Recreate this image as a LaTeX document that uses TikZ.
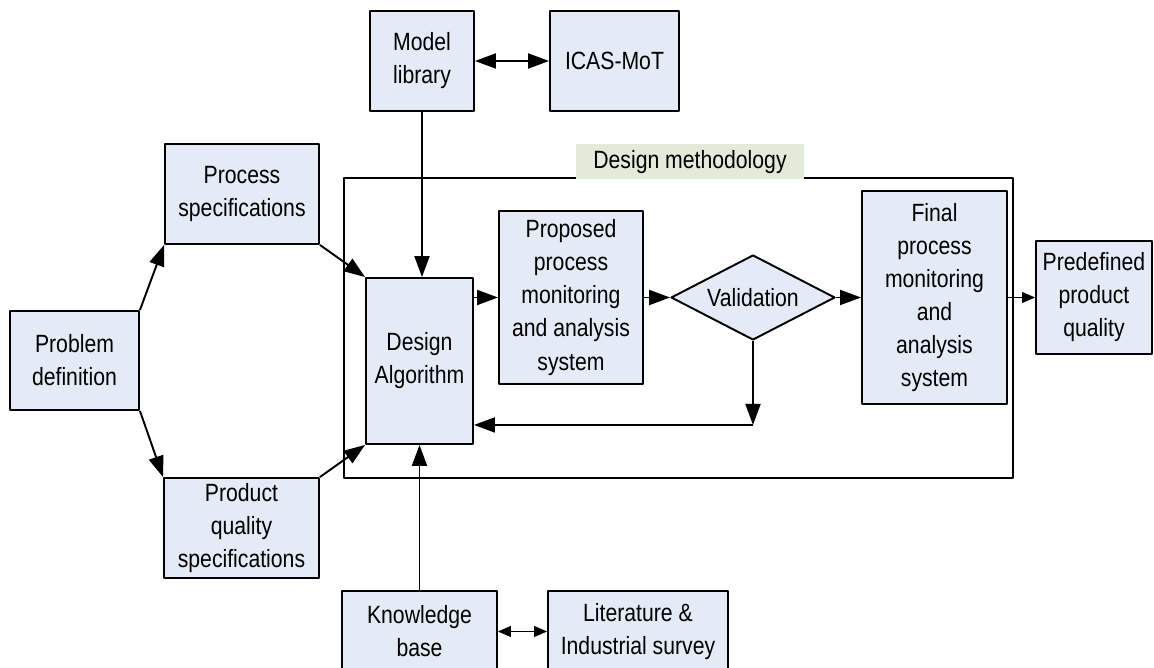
\documentclass[tikz,border=0pt]{standalone}
\usepackage{fontspec}
\setmainfont[FakeStretch=0.85]{Liberation Sans}
\usetikzlibrary{arrows.meta,shapes.geometric}
\definecolor{boxblue}{RGB}{229,235,246}
\definecolor{tagbg}{RGB}{227,234,218}
\begin{document}
\begin{tikzpicture}[x=0.02cm,y=-0.02cm,line join=round,>={Triangle[length=0.42cm,width=0.3cm]},
	font=\fontsize{14.2pt}{18.8pt}\selectfont,
	block/.style={draw,line width=1.1pt,fill=boxblue,align=center,inner sep=0pt},
	big/.style={->,line width=1.1pt},
	small/.style={line width=0.55pt,>={Triangle[length=0.26cm,width=0.22cm]}}]
		\useasboundingbox (0,0) rectangle (1154,668);
		\clip (0,0) rectangle (1154,668);
		\node[draw,line width=1.1pt,minimum width=13.38cm,minimum height=6cm,inner sep=0pt] (frame) at (678.5,328) {};
		\node[fill=tagbg,minimum width=4.56cm,minimum height=0.7cm,inner sep=0pt] (tag) at (690,162) {Design methodology};
		\node[block,minimum width=2.58cm,minimum height=1.98cm] (prob) at (74.5,360.5) {Problem\\definition};
		\node[block,minimum width=3.08cm,minimum height=2cm] (pspec) at (242,194) {Process\\specifications};
		\node[block,minimum width=3.1cm,minimum height=2cm] (qspec) at (241.5,528) {Product\\quality\\specifications};
		\node[block,minimum width=2.08cm,minimum height=2cm] (model) at (422,61) {Model\\library};
		\node[block,minimum width=2.58cm,minimum height=2cm] (icas) at (614.5,61) {ICAS-MoT};
		\node[block,minimum width=2.14cm,minimum height=3.32cm] (alg) at (419.5,361) {Design\\Algorithm};
		\node[block,minimum width=2.88cm,minimum height=3.46cm] (prop) at (571,297.5) {Proposed\\process\\monitoring\\and analysis\\system};
		\node[block,diamond,aspect=1.9,minimum width=3.28cm,minimum height=1.7cm] (val) at (753,297.5) {Validation};
		\node[block,minimum width=2.9cm,minimum height=4.26cm] (fin) at (934.5,297.5) {Final\\process\\monitoring\\and\\analysis\\system};
		\node[block,minimum width=2.32cm,minimum height=2.26cm] (pre) at (1094,297.5) {Predefined\\product\\quality};
		\node[block,minimum width=3.1cm,minimum height=1.62cm] (know) at (419.5,631.5) {Knowledge\\base};
		\node[block,minimum width=3.6cm,minimum height=1.62cm] (lit) at (638,631.5) {Literature \&\\Industrial survey};
		\draw[big] (prob.north east) -- (pspec.south west);
		\draw[big] (prob.south east) -- (qspec.north west);
		\draw[big] (pspec.south east) -- (alg.north west);
		\draw[big] (qspec.north east) -- (alg.south west);
		\draw[big] (model.south) -- (model.south |- alg.north);
		\draw[big,<->] (model.east) -- (icas.west);
		\draw[big] (know.north) -- (know.north |- alg.south);
		\draw[small,<->] (know.east) -- (lit.west);
		\draw[big] (alg.east |- prop.west) -- (prop.west);
		\draw[big] (prop.east) -- (val.west);
		\draw[big] (val.east) -- (fin.west);
		\draw[small,->] (fin.east) -- (pre.west);
		\path (val.south) ++(0,84) coordinate (fb);
		\draw[big] (val.south) -- (fb);
		\draw[big] (fb) -- (alg.east |- fb);
\end{tikzpicture}
\end{document}
